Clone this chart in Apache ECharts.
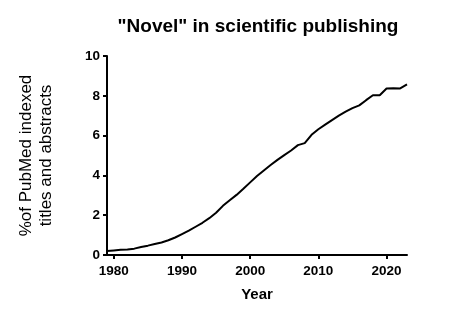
<!DOCTYPE html>
<html>
<head>
<meta charset="utf-8">
<script src="https://cdn.jsdelivr.net/npm/echarts@6/dist/echarts.min.js"></script>
<style>html,body{margin:0;padding:0;background:#fff}#c{width:453px;height:318px}</style>
</head>
<body>
<div id="c"></div>
<script>
var years = [1979,1980,1981,1982,1983,1984,1985,1986,1987,1988,1989,1990,1991,1992,1993,1994,1995,1996,1997,1998,1999,2000,2001,2002,2003,2004,2005,2006,2007,2008,2009,2010,2011,2012,2013,2014,2015,2016,2017,2018,2019,2020,2021,2022,2023];
var novelPct = [0.20,0.23,0.26,0.28,0.32,0.40,0.47,0.55,0.63,0.74,0.88,1.05,1.22,1.42,1.62,1.85,2.12,2.47,2.75,3.02,3.33,3.65,3.97,4.25,4.52,4.78,5.02,5.25,5.52,5.62,6.04,6.32,6.55,6.78,7.00,7.20,7.38,7.52,7.78,8.03,8.03,8.37,8.38,8.37,8.57];
var xTicks = [1980,1990,2000,2010,2020];
var titleText = '"Novel" in scientific publishing';
var xName = 'Year';
var yName = '%of PubMed indexed\ntitles and abstracts';

var FF = 'Liberation Sans, Arial, Helvetica, sans-serif';
var chart = echarts.init(document.getElementById('c'), null, {renderer:'canvas'});
chart.setOption({
  animation: false,
  backgroundColor: '#fff',
  title: {
    text: titleText, left: 253, top: 12, textAlign: 'center',
    textStyle: {fontFamily: FF, fontWeight: 'bold', fontSize: 19, color: '#000'}
  },
  grid: {left: 107, right: 46, top: 56, bottom: 63, containLabel: false},
  xAxis: {
    type: 'value', min: 1979, max: 2023,
    name: xName, nameLocation: 'middle', nameGap: 32,
    nameTextStyle: {fontFamily: FF, fontWeight: 'bold', fontSize: 15, color: '#000'},
    axisLine: {show: true, lineStyle: {color: '#000', width: 2}},
    axisTick: {show: true, length: 4, lineStyle: {color: '#000', width: 2}, customValues: xTicks},
    axisLabel: {customValues: xTicks, margin: 9, fontFamily: FF, fontWeight: 'bold', fontSize: 13.5, color: '#000',
      formatter: function(v){ return String(v); }},
    splitLine: {show: false}
  },
  yAxis: {
    type: 'value', min: 0, max: 10, interval: 2,
    name: yName, nameLocation: 'middle', nameGap: 51, nameRotate: 90,
    nameTextStyle: {fontFamily: FF, fontWeight: 'normal', fontSize: 17, color: '#000', lineHeight: 20, align: 'center'},
    axisLine: {show: true, lineStyle: {color: '#000', width: 2}},
    axisTick: {show: true, length: 4, lineStyle: {color: '#000', width: 2}},
    axisLabel: {margin: 7, fontFamily: FF, fontWeight: 'bold', fontSize: 13.5, color: '#000'},
    splitLine: {show: false}
  },
  series: [{
    type: 'line',
    data: years.map(function(y, i){ return [y, novelPct[i]]; }),
    showSymbol: false, symbol: 'none',
    lineStyle: {color: '#000', width: 2},
    clip: false
  }]
});
</script>
</body>
</html>
